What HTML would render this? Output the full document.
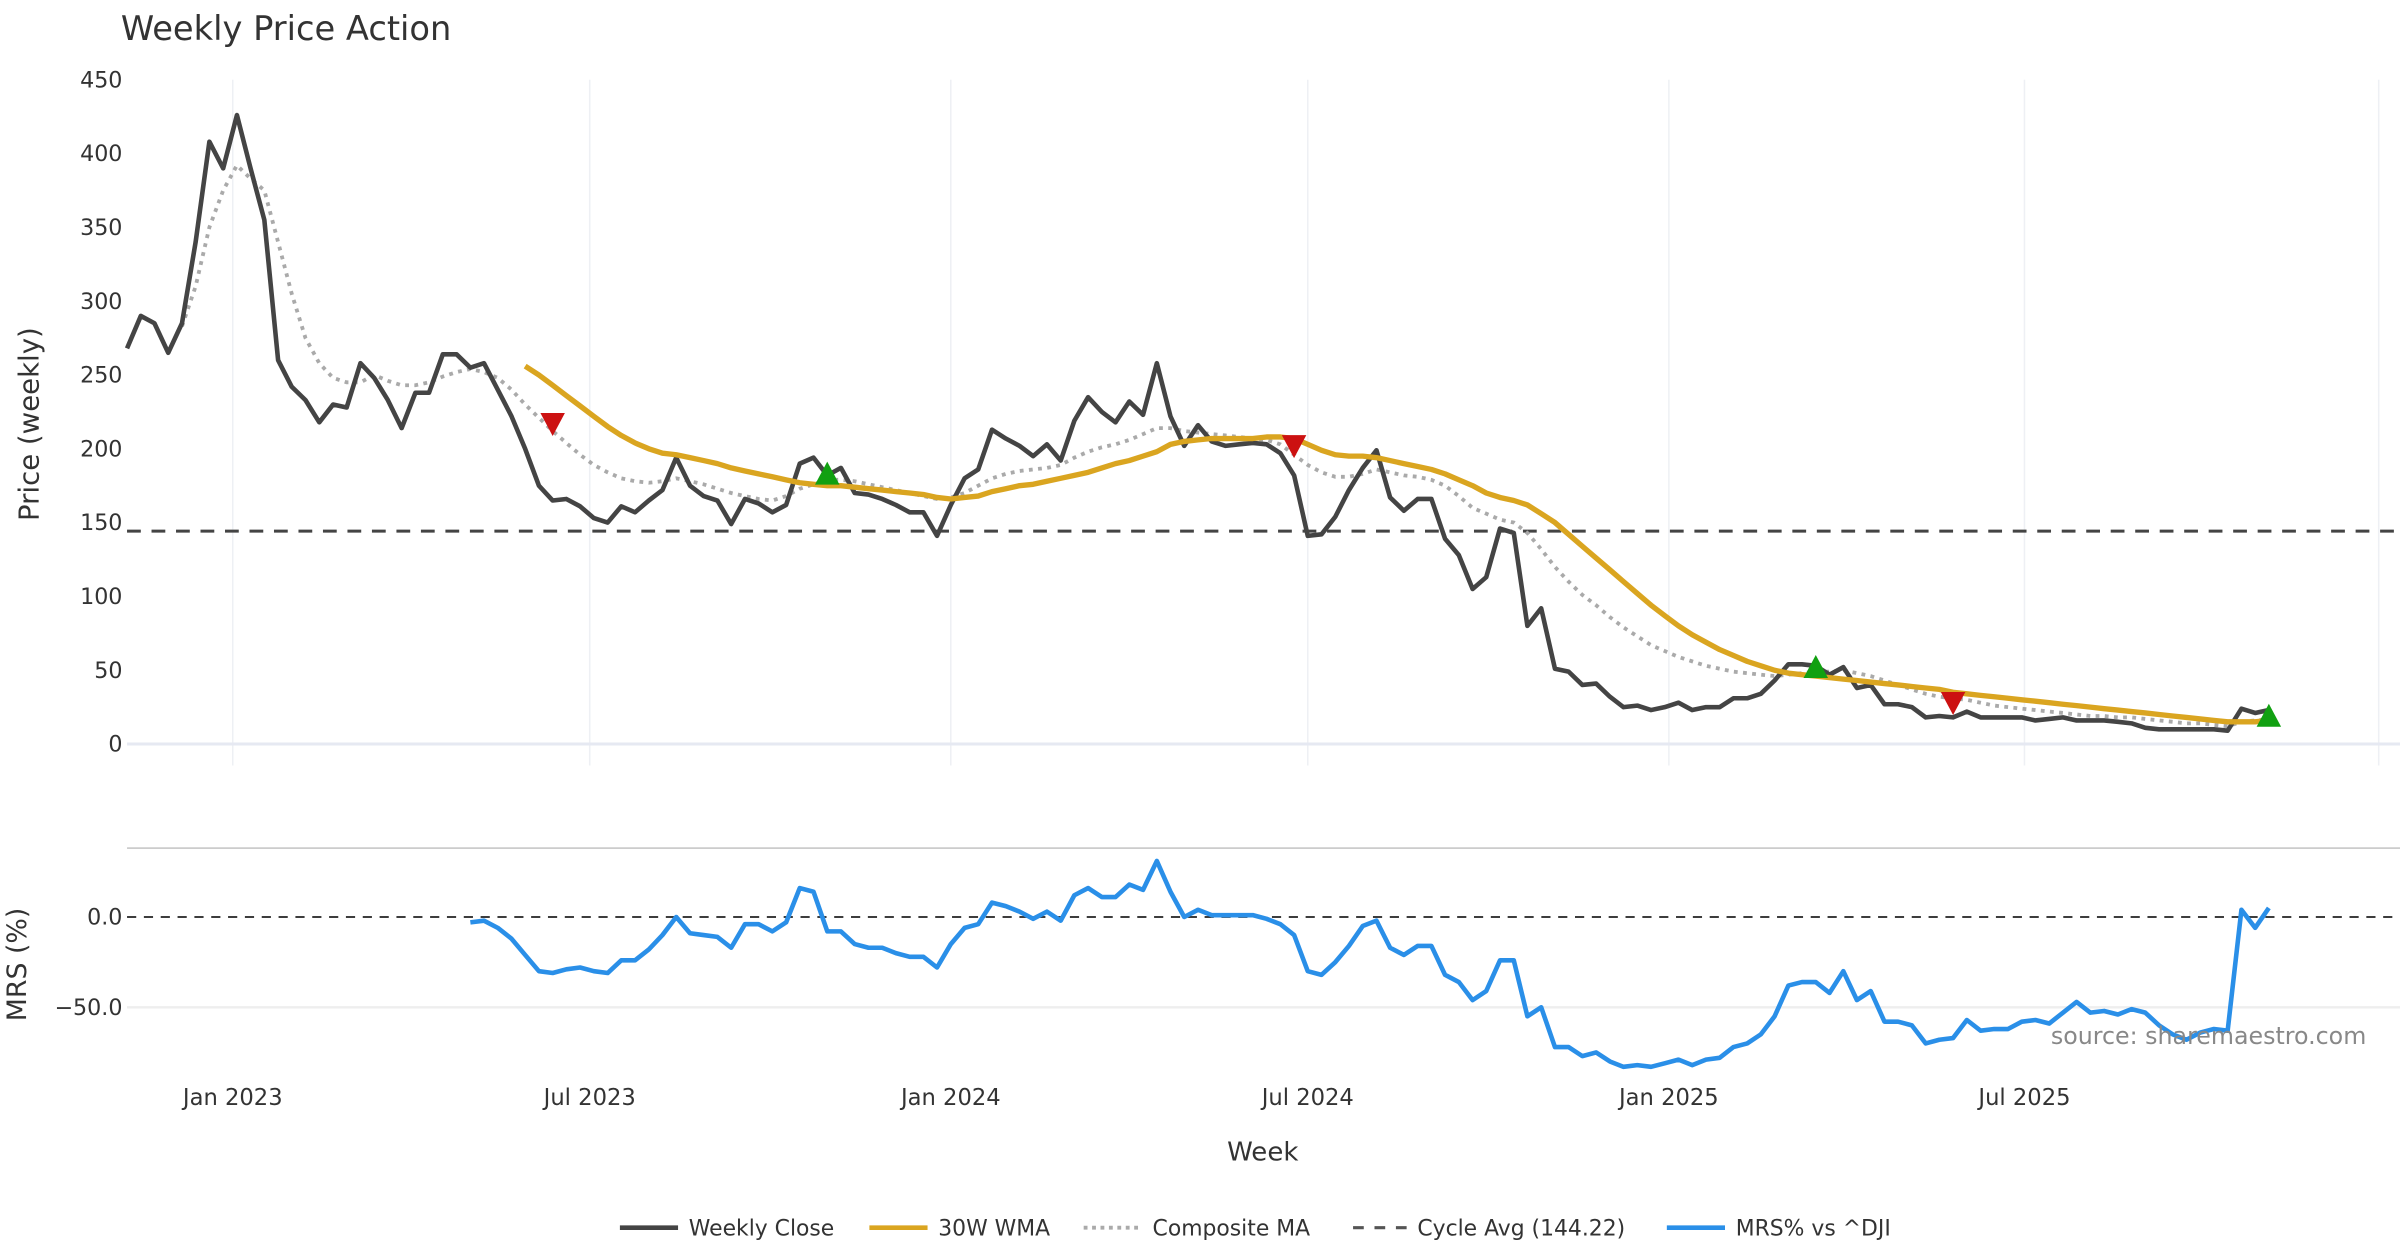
<!DOCTYPE html>
<html><head><meta charset="utf-8"><style>
html,body{margin:0;padding:0;background:#fff;}
svg{display:block;font-family:"DejaVu Sans","Liberation Sans",sans-serif;}
</style></head><body>
<svg id="chart" width="2400" height="1260" viewBox="0 0 1568 823" xmlns="http://www.w3.org/2000/svg">
<text x="79" y="26" font-size="22" fill="#333">Weekly Price Action</text>
<g id="grid"></g>
<g id="axes"></g>
<g id="series"></g>
<text x="25" y="277" font-size="18" fill="#333" text-anchor="middle" transform="rotate(-90 25 277)">Price (weekly)</text>
<text x="17" y="630" font-size="17.5" fill="#333" text-anchor="middle" transform="rotate(-90 17 630)">MRS (%)</text>
<text x="825" y="758" font-size="17" fill="#333" text-anchor="middle">Week</text>
<text x="1546" y="682" font-size="15.5" fill="#888" text-anchor="end">source: sharemaestro.com</text>
<g font-size="14.3" fill="#333">
<g><line x1="405" y1="802" x2="443" y2="802" stroke="#444" stroke-width="3"/><text x="450" y="807">Weekly Close</text></g>
<g><line x1="568" y1="802" x2="606" y2="802" stroke="#DAA520" stroke-width="3"/><text x="613" y="807">30W WMA</text></g>
<g><line x1="708" y1="802" x2="744" y2="802" stroke="#aaa" stroke-width="2.5" stroke-dasharray="2.5,3"/><text x="753" y="807">Composite MA</text></g>
<g><line x1="884" y1="802" x2="920" y2="802" stroke="#555" stroke-width="2" stroke-dasharray="7,7"/><text x="926" y="807">Cycle Avg (144.22)</text></g>
<g><line x1="1089" y1="802" x2="1127" y2="802" stroke="#2A8FE8" stroke-width="3"/><text x="1134" y="807">MRS% vs ^DJI</text></g>
</g>
</svg>
<script>
const closeVals=[268,290,285,265,285,340,408,390,426,390,355,260,242,233,218,230,228,258,248,233,214,238,238,264,264,255,258,240,222,200,175,165,166,161,153,150,161,157,165,172,194,175,168,165,149,166,163,157,162,190,194,182,187,170,169,166,162,157,157,141,162,180,186,213,207,202,195,203,192,219,235,225,218,232,223,258,222,202,216,205,202,203,204,203,197,182,141,142,154,172,187,199,167,158,166,166,139,128,105,113,146,143,80,92,51,49,40,41,32,25,26,23,25,28,23,25,25,31,31,34,43,54,54,53,47,52,38,40,27,27,25,18,19,18,22,18,18,18,18,16,17,18,16,16,16,15,14,11,10,10,10,10,10,9,24,21,23];
const wmaStart=29;
const wmaVals=[256,250,243,236,229,222,215,209,204,200,197,196,194,192,190,187,185,183,181,179,177,176,175,175,174,173,172,171,170,169,167,166,167,168,171,173,175,176,178,180,182,184,187,190,192,195,198,203,205,206,207,207,207,207,208,208,207,203,199,196,195,195,194,192,190,188,186,183,179,175,170,167,165,162,156,150,142,134,126,118,110,102,94,87,80,74,69,64,60,56,53,50,48,47,46,45,44,43,42,41,40,39,38,37,35,34,33,32,31,30,29,28,27,26,25,24,23,22,21,20,19,18,17,16,15,15,15,16];
const compStart=4;
const compVals=[283,310,350,375,392,383,375,340,305,275,258,248,245,245,250,246,243,243,245,249,252,254,252,248,240,230,221,212,204,196,189,184,180,178,177,178,180,178,176,173,170,168,166,165,168,173,176,179,179,178,176,174,172,170,168,166,167,170,175,180,183,185,186,187,189,194,198,201,203,206,210,214,214,212,211,210,209,208,207,206,203,196,189,184,181,181,183,186,184,182,181,179,175,168,160,156,152,150,143,132,120,110,101,94,86,79,73,67,63,59,56,53,51,49,48,47,46,47,48,49,49,50,48,46,43,40,37,34,32,31,30,28,26,25,24,23,22,21,20,19,19,18,18,17,16,15,14,14,13,12,15,16,17];
const mrsStart=25;
const mrsVals=[-3,-2,-6,-12,-21,-30,-31,-29,-28,-30,-31,-24,-24,-18,-10,0,-9,-10,-11,-17,-4,-4,-8,-3,16,14,-8,-8,-15,-17,-17,-20,-22,-22,-28,-15,-6,-4,8,6,3,-1,3,-2,12,16,11,11,18,15,31,14,0,4,1,1,1,1,-1,-4,-10,-30,-32,-25,-16,-5,-2,-17,-21,-16,-16,-32,-36,-46,-41,-24,-24,-55,-50,-72,-72,-77,-75,-80,-83,-82,-83,-81,-79,-82,-79,-78,-72,-70,-65,-55,-38,-36,-36,-42,-30,-46,-41,-58,-58,-60,-70,-68,-67,-57,-63,-62,-62,-58,-57,-59,-53,-47,-53,-52,-54,-51,-53,-60,-65,-68,-64,-62,-63,4,-6,5];
const buyIdx=[51,123,156];
const buyVals=[183,52,19];
const sellIdx=[31,85,133];
const sellVals=[217,202,28];
const cycleAvg=144.22;
const priceTicks=[0,50,100,150,200,250,300,350,400,450];
const mrsTicks=[0,-50];
const mrsTickLabels=["0.0","\u221250.0"];
const dateTickWeeks=[7.7,33.7,60,86,112.3,138.2,164];
const dateTickLabels=["Jan 2023","Jul 2023","Jan 2024","Jul 2024","Jan 2025","Jul 2025",""];

const NS="http://www.w3.org/2000/svg";
const xS=i=>83+i*8.97;
const yP=v=>486-v*(434/450);
const yM=v=>599-v*1.18;
function mk(tag,attrs,parent){const e=document.createElementNS(NS,tag);for(const k in attrs)e.setAttribute(k,attrs[k]);parent.appendChild(e);return e;}
const grid=document.getElementById('grid'),axes=document.getElementById('axes'),ser=document.getElementById('series');

dateTickWeeks.forEach((w,k)=>{
  const g=mk('line',{x1:xS(w),x2:xS(w),y1:52,y2:500,stroke:'#eef0f4','stroke-width':1},grid);
  
  
  if(dateTickLabels[k]){
    const t=mk('text',{x:xS(w),y:722,'font-size':14.8,fill:'#333','text-anchor':'middle'},axes);
    t.textContent=dateTickLabels[k];
    
    
  }
});
const base=mk('line',{x1:83,x2:1568,y1:yP(0),y2:yP(0),stroke:'#e6e9f2','stroke-width':2},grid);


priceTicks.forEach(v=>{
  const t=mk('text',{x:80,y:yP(v)+5,'font-size':14.5,fill:'#333','text-anchor':'end'},axes);
  t.textContent=String(v);
  
  
});
const sep=mk('line',{x1:83,x2:1568,y1:554,y2:554,stroke:'#ccc','stroke-width':1.2},grid);


mrsTicks.forEach((v,k)=>{
  if(v!==0){const gl=mk('line',{x1:83,x2:1568,y1:yM(v),y2:yM(v),stroke:'#eee','stroke-width':1.5},grid);
  
  }
  const t=mk('text',{x:80,y:yM(v)+5,'font-size':14.5,fill:'#333','text-anchor':'end'},axes);
  t.textContent=mrsTickLabels[k];
  
  
});
const zl=mk('line',{x1:83,x2:1568,y1:yM(0),y2:yM(0),stroke:'#222','stroke-width':1.2,'stroke-dasharray':'6,5'},ser);


const cl=mk('line',{x1:83,x2:1568,y1:yP(cycleAvg),y2:yP(cycleAvg),stroke:'#444','stroke-width':2,'stroke-dasharray':'9,7'},ser);



function pts(vals,start,ys){return vals.map((v,k)=>xS(start+k).toFixed(1)+','+ys(v).toFixed(1)).join(' ');}
const cm=mk('polyline',{points:pts(compVals,compStart,yP),fill:'none',stroke:'#aaa','stroke-width':2.5,'stroke-dasharray':'2.5,3.5'},ser);


const cp=mk('polyline',{points:pts(closeVals,0,yP),fill:'none',stroke:'#444','stroke-width':3,'stroke-linejoin':'round'},ser);


const wm=mk('polyline',{points:pts(wmaVals,wmaStart,yP),fill:'none',stroke:'#DAA520','stroke-width':3.5,'stroke-linejoin':'round'},ser);


const mr=mk('polyline',{points:pts(mrsVals,mrsStart,yM),fill:'none',stroke:'#2A8FE8','stroke-width':3,'stroke-linejoin':'round'},ser);


buyIdx.forEach((i,k)=>{
  const x=xS(i),y=yP(buyVals[k]);
  const p=mk('polygon',{points:`${x-8},${y+7} ${x+8},${y+7} ${x},${y-8}`,fill:'#11a011'},ser);
  
  
});
sellIdx.forEach((i,k)=>{
  const x=xS(i),y=yP(sellVals[k]);
  const p=mk('polygon',{points:`${x-8},${y-7} ${x+8},${y-7} ${x},${y+8}`,fill:'#cc1111'},ser);
  
  
});
</script>
</body></html>
